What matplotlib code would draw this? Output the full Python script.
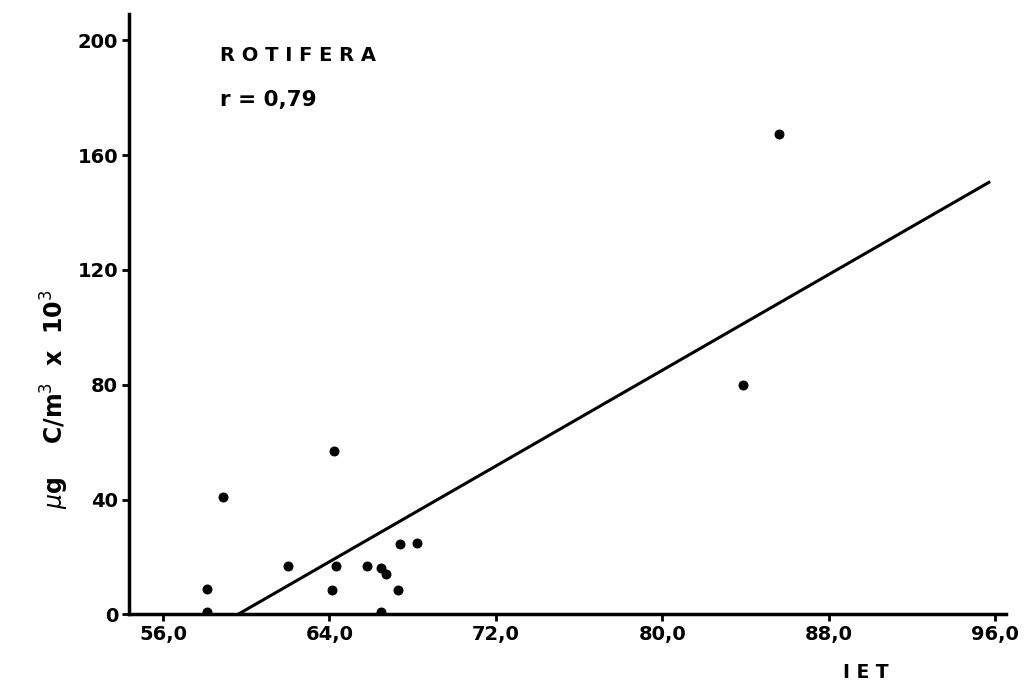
import matplotlib
matplotlib.use("Agg")
import matplotlib.pyplot as plt

# IET vs rotifer biomass
iet = [58.9, 64.2, 58.1, 58.1, 62.0, 64.3, 64.1, 65.8, 66.5, 66.7,
       67.4, 68.2, 67.3, 66.5, 85.6, 83.9]
biomass = [41, 57, 9, 1, 17, 17, 8.5, 17, 16, 14,
           24.5, 25, 8.5, 1, 167.5, 80]

# regression line end points
fit_x = [59.6, 95.7]
fit_y = [0, 150.5]

xticks = [56, 64, 72, 80, 88, 96]
xtick_labels = ["56,0", "64,0", "72,0", "80,0", "88,0", "96,0"]
yticks = [0, 40, 80, 120, 160, 200]

plt.rcParams['font.family'] = ['DejaVu Sans']
fig = plt.figure(figsize=(10.25, 6.88), dpi=100)
ax = fig.add_axes([0.126, 0.107, 0.855, 0.872])

ax.scatter(iet, biomass, s=38, color="black", zorder=3)
ax.plot(fit_x, fit_y, color="black", linewidth=2.2)

ax.set_xlim(54.37, 96.5)
ax.set_ylim(0, 209)
ax.set_xticks(xticks)
ax.set_xticklabels(xtick_labels)
ax.set_yticks(yticks)

for s in ["top", "right"]:
    ax.spines[s].set_visible(False)
for s in ["left", "bottom"]:
    ax.spines[s].set_linewidth(2.5)

ax.tick_params(direction="out", length=5, width=2, labelsize=14, pad=3)
for lbl in ax.get_xticklabels() + ax.get_yticklabels():
    lbl.set_fontweight("bold")

ax.text(0.104, 0.932, "R O T I F E R A", transform=ax.transAxes,
        fontsize=14, fontweight="bold", va="center")
ax.text(0.104, 0.857, "r = 0,79", transform=ax.transAxes,
        fontsize=15.5, fontweight="bold", va="center")

fig.text(0.054, 0.42, r"$\mu$g    C/m$^3$  x  10$^3$", rotation=90,
         fontsize=17, fontweight="bold", ha="center", va="center")
fig.text(0.845, 0.022, "I E T", fontsize=13.5, fontweight="bold",
         ha="center", va="center")

fig.savefig("out.png", dpi=100, facecolor="white")
